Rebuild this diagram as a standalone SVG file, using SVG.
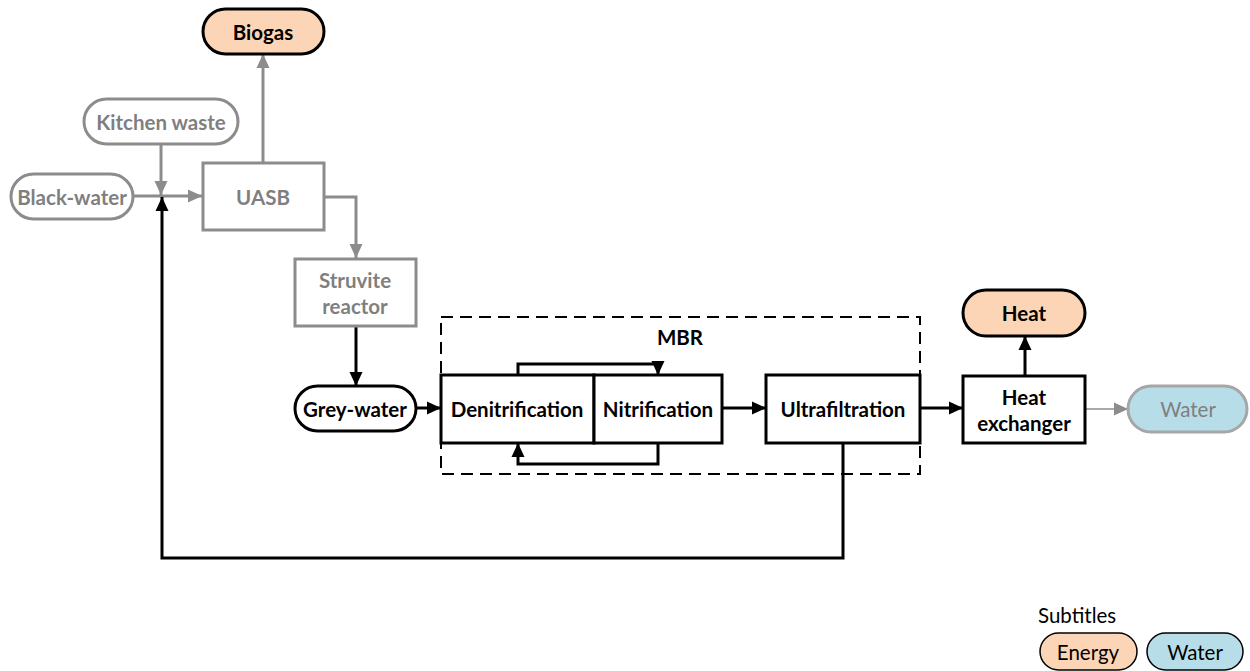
<svg xmlns="http://www.w3.org/2000/svg" width="1250" height="671" viewBox="0 0 1250 671">
<style>
text{font-family:Lato,"Open Sans","Liberation Sans",sans-serif;font-size:20.5px;text-anchor:middle;dominant-baseline:central}
.b{font-weight:bold}
.k{fill:#000}
.g{fill:#7f7f7f}
.nk{fill:#fff;stroke:#000;stroke-width:3}
.ng{fill:#fff;stroke:#8c8c8c;stroke-width:3}
.en{fill:#fbd5b5;stroke:#000;stroke-width:3}
.wa{fill:#b7dde8;stroke:#a6a6a6;stroke-width:3}
.ck{fill:none;stroke:#000;stroke-width:3}
.cg{fill:none;stroke:#8c8c8c;stroke-width:3}
.cg2{fill:none;stroke:#8c8c8c;stroke-width:1.5}
.lg{stroke-width:1.5}
</style>
<defs>
<marker id="ak" viewBox="0 0 14 14" refX="14" refY="7" markerWidth="14" markerHeight="14" markerUnits="userSpaceOnUse" orient="auto"><path d="M0,0.5L14,7L0,13.5z" fill="#000"/></marker>
<marker id="ag" viewBox="0 0 14 14" refX="14" refY="7" markerWidth="14" markerHeight="14" markerUnits="userSpaceOnUse" orient="auto"><path d="M0,0.5L14,7L0,13.5z" fill="#8c8c8c"/></marker>
</defs>
<g id="mbr"><rect x="441" y="317" width="479" height="157" fill="none" stroke="#000" stroke-width="2" stroke-dasharray="12 7"/><text class="b k" x="680" y="337">MBR</text></g>
<g id="connectors">
<path class="cg" d="M161,144V195" marker-end="url(#ag)"/>
<path class="cg" d="M133,196H202" marker-end="url(#ag)"/>
<path class="cg" d="M263,163V54" marker-end="url(#ag)"/>
<path class="cg" d="M324,197H356V258" marker-end="url(#ag)"/>
<path class="ck" d="M356,326V386" marker-end="url(#ak)"/>
<path class="ck" d="M416,408H441" marker-end="url(#ak)"/>
<path class="ck" d="M518,375V364H658V375" marker-end="url(#ak)"/>
<path class="ck" d="M658,443V464H518V443" marker-end="url(#ak)"/>
<path class="ck" d="M722,408H766" marker-end="url(#ak)"/>
<path class="ck" d="M920,408H963" marker-end="url(#ak)"/>
<path class="ck" d="M1025,376V336" marker-end="url(#ak)"/>
<path class="cg2" d="M1085,409H1128" marker-end="url(#ag)"/>
<path class="ck" d="M843,443V558H162V197" marker-end="url(#ak)"/>
</g>
<g id="biogas"><rect class="en" x="203" y="9" width="121" height="45" rx="22.5"/><text class="b k" x="263" y="32">Biogas</text></g>
<g id="kitchen"><rect class="ng" x="84" y="99" width="154" height="45" rx="22.5"/><text class="b g" x="161" y="122">Kitchen waste</text></g>
<g id="blackwater"><rect class="ng" x="11" y="174" width="122" height="45" rx="22.5"/><text class="b g" x="72" y="197">Black-water</text></g>
<g id="uasb"><rect class="ng" x="203" y="163" width="121" height="67"/><text class="b g" x="263" y="197">UASB</text></g>
<g id="struvite"><rect class="ng" x="295" y="259" width="121" height="67"/><text class="b g" x="355" y="280">Struvite</text><text class="b g" x="355" y="306">reactor</text></g>
<g id="greywater"><rect class="nk" x="295" y="386" width="121" height="45" rx="22.5"/><text class="b k" x="355" y="409">Grey-water</text></g>
<g id="denit"><rect class="nk" x="441" y="375" width="153" height="68"/><text class="b k" x="517" y="409">Denitrification</text></g>
<g id="nit"><rect class="nk" x="594" y="375" width="128" height="68"/><text class="b k" x="658" y="409">Nitrification</text></g>
<g id="ultra"><rect class="nk" x="766" y="375" width="154" height="68"/><text class="b k" x="843" y="409">Ultrafiltration</text></g>
<g id="heatex"><rect class="nk" x="963" y="376" width="122" height="67"/><text class="b k" x="1024" y="397">Heat</text><text class="b k" x="1024" y="423">exchanger</text></g>
<g id="heat"><rect class="en" x="963" y="290" width="122" height="46" rx="23"/><text class="b k" x="1024" y="313">Heat</text></g>
<g id="water"><rect class="wa" x="1128" y="386" width="119" height="46" rx="23"/><text class="g" x="1188" y="409">Water</text></g>
<g id="legend">
<text class="k" x="1038" y="615" style="text-anchor:start">Subtitles</text>
<rect class="en lg" x="1040" y="633" width="97" height="37" rx="18.5"/><text class="k" x="1088" y="652">Energy</text>
<rect class="wa lg" x="1147" y="633" width="96" height="37" rx="18.5" style="stroke:#000"/><text class="k" x="1195" y="652">Water</text>
</g>
</svg>
